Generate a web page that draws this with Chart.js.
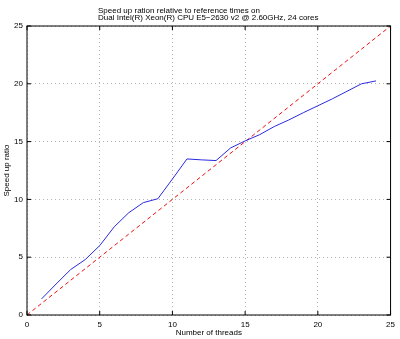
<!DOCTYPE html>
<html>
<head>
<meta charset="utf-8">
<script src="https://cdn.jsdelivr.net/npm/chart.js@4"></script>
<style>
  html, body { margin: 0; padding: 0; background: #fff; }
  #wrap { width: 400px; height: 339px; }
</style>
</head>
<body>
<div id="wrap"><canvas id="chart"></canvas></div>
<script>
const threads = [1, 2, 3, 4, 5, 6, 7, 8, 9, 10, 11, 12, 13, 14, 15, 16, 17, 18, 19, 20, 21, 22, 23, 24];
const speedup = [1.39, 2.68, 3.93, 4.79, 6.0, 7.63, 8.85, 9.72, 10.06, 11.76, 13.5, 13.42, 13.36, 14.45,
                 15.06, 15.6, 16.3, 16.87, 17.5, 18.1, 18.7, 19.35, 20.0, 20.25];
const idealX = [0, 25];
const idealY = [0, 25];
const axisTicks = [0, 5, 10, 15, 20, 25];
const titleLines = ['Speed up ration relative to reference times on',
                    'Dual Intel(R) Xeon(R) CPU E5\u22122630 v2 @ 2.60GHz, 24 cores'];

const FONT = '"Liberation Sans", Arial, Helvetica, sans-serif';

// frame box, inward ticks and the left-aligned title (matlab style)
const matlabFrame = {
  id: 'matlabFrame',
  afterDraw(chart) {
    const {ctx, chartArea: a, scales} = chart;
    ctx.save();
    ctx.strokeStyle = '#000';
    ctx.lineWidth = 1;
    ctx.setLineDash([]);
    ctx.strokeRect(a.left, a.top, a.right - a.left, a.bottom - a.top);
    ctx.beginPath();
    axisTicks.forEach(v => {
      const px = scales.x.getPixelForValue(v);
      ctx.moveTo(px, a.bottom); ctx.lineTo(px, a.bottom - 4);
      ctx.moveTo(px, a.top); ctx.lineTo(px, a.top + 4);
      const py = scales.y.getPixelForValue(v);
      ctx.moveTo(a.left, py); ctx.lineTo(a.left + 4, py);
      ctx.moveTo(a.right, py); ctx.lineTo(a.right - 4, py);
    });
    ctx.stroke();

    ctx.fillStyle = '#000';
    ctx.font = '8px ' + FONT;
    ctx.textAlign = 'left';
    ctx.textBaseline = 'alphabetic';
    ctx.fillText(titleLines[0], 98, 13);
    ctx.fillText(titleLines[1], 98, 20);
    ctx.restore();
  }
};

new Chart(document.getElementById('chart'), {
  type: 'line',
  data: {
    datasets: [{
      label: 'Speed up',
      data: threads.map((t, i) => ({x: t, y: speedup[i]})),
      borderColor: '#2a2ae0',
      borderWidth: 1,
      pointRadius: 0,
      tension: 0,
      fill: false
    }, {
      label: 'Ideal',
      data: idealX.map((t, i) => ({x: t, y: idealY[i]})),
      borderColor: '#f01010',
      borderWidth: 1,
      borderDash: [4, 3],
      pointRadius: 0,
      tension: 0,
      fill: false
    }]
  },
  options: {
    responsive: true,
    maintainAspectRatio: false,
    animation: false,
    layout: { padding: { top: 26, right: 8, bottom: 0, left: 0 } },
    plugins: {
      legend: { display: false },
      title: { display: false },
      tooltip: { enabled: false }
    },
    scales: {
      x: {
        type: 'linear',
        min: 0,
        max: 25,
        afterBuildTicks: s => { s.ticks = axisTicks.map(v => ({value: v})); },
        afterFit: s => { s.height = 24; },
        grid: { color: '#b4b4b4', lineWidth: 1, drawTicks: false, borderDash: [1, 3] },
        border: { display: false, dash: [1, 3] },
        ticks: { color: '#000', padding: 5, maxRotation: 0, font: { family: FONT, size: 8 } },
        title: {
          display: true,
          text: 'Number of threads',
          color: '#000',
          padding: { top: 0, bottom: 1 },
          font: { family: FONT, size: 8 }
        }
      },
      y: {
        min: 0,
        max: 25,
        afterBuildTicks: s => { s.ticks = axisTicks.map(v => ({value: v})); },
        afterFit: s => { s.width = 27; },
        grid: { color: '#b4b4b4', lineWidth: 1, drawTicks: false, borderDash: [1, 3] },
        border: { display: false, dash: [1, 3] },
        ticks: { color: '#000', padding: 4, font: { family: FONT, size: 8 } },
        title: {
          display: true,
          text: 'Speed up ratio',
          color: '#000',
          padding: { top: 2, bottom: 0 },
          font: { family: FONT, size: 8 }
        }
      }
    }
  },
  plugins: [matlabFrame]
});
</script>
</body>
</html>
